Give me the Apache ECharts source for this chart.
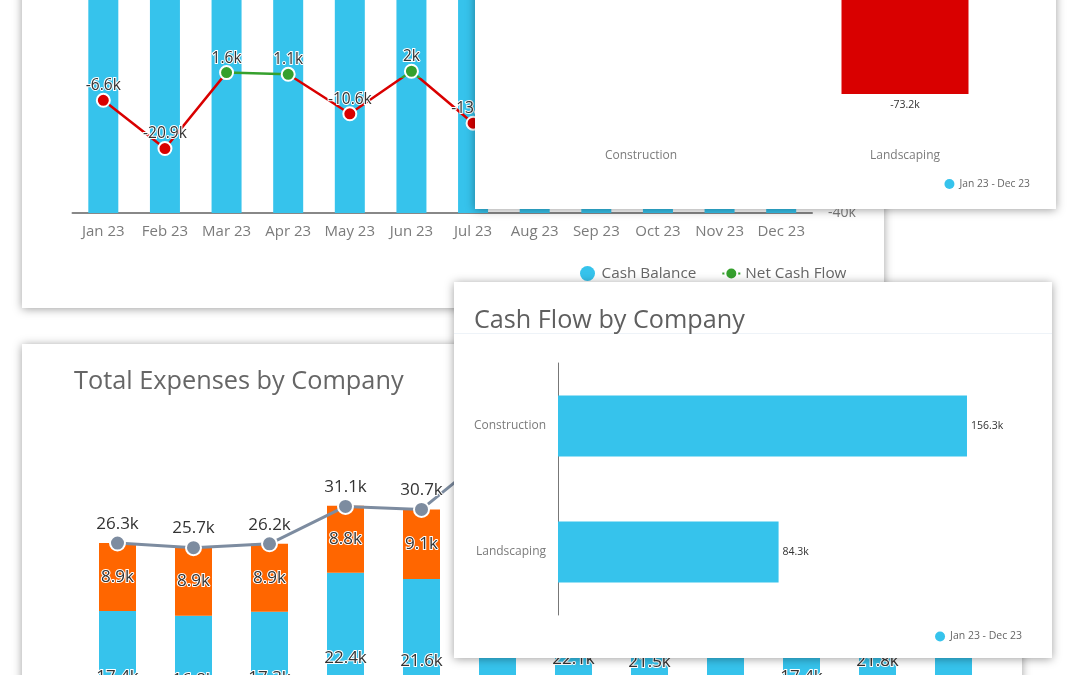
<!DOCTYPE html>
<html>
<head>
<meta charset="utf-8">
<script src="https://cdn.jsdelivr.net/npm/echarts@6/dist/echarts.min.js"></script>
<style>
  html, body { margin: 0; padding: 0; width: 1080px; height: 675px; overflow: hidden; background: #fff; }
  .card { position: absolute; background: #fff; box-shadow: 0 1px 9px rgba(0,0,0,.38); }
</style>
</head>
<body>
<div class="card" id="cashTrend" style="left:22px;top:-100px;width:862px;height:408px"></div>
<div class="card" id="expenses" style="left:22px;top:344px;width:1000px;height:420px"></div>
<div class="card" id="netByCompany" style="left:475px;top:-260px;width:581px;height:469px"></div>
<div class="card" id="flowByCompany" style="left:454px;top:282px;width:598px;height:376px"></div>
<script>
// all values in thousands
var months = ['Jan 23','Feb 23','Mar 23','Apr 23','May 23','Jun 23','Jul 23','Aug 23','Sep 23','Oct 23','Nov 23','Dec 23'];
var cashBalance = [104, 92, 94, 95, 88, 90, 86, 89, 92, 95, 90, 94];
var netCashFlow = [-6.6, -20.9, 1.6, 1.1, -10.6, 2, -13.4, -4.2, 3.1, -7.5, 1.4, -2.6];

var companies = ['Construction', 'Landscaping'];
var netProfit = [38.5, -73.2];
var cashFlow = [156.3, 84.3];
var periodName = 'Jan 23 - Dec 23';

var construction = [17.4, 16.8, 17.3, 22.4, 21.6, 29.8, 22.1, 21.5, 26, 17.4, 21.8, 26.5];
var landscaping = [8.9, 8.9, 8.9, 8.8, 9.1, 9, 8.9, 8.8, 9, 8.9, 9, 8.8];
var totalExpenses = [26.3, 25.7, 26.2, 31.1, 30.7, 38.8, 31, 30.3, 35, 26.3, 30.8, 35.3];

var FONT = '"Open Sans"';
var BLUE = '#36c3ec', ORANGE = '#ff6600', RED = '#d90000', GREEN = '#35a02d', SLATE = '#7d8ca0';
var TICK = '#7b7b7b', INK = '#333';

function k(p) { return p.value + 'k'; }
function outlined(pos, size) {
  return { show: true, position: pos, formatter: k, color: INK, fontFamily: FONT, fontSize: size,
    textBorderColor: '#fff', textBorderWidth: 2 };
}

var trend = echarts.init(document.getElementById('cashTrend'));
trend.setOption({
  animation: false,
  textStyle: { fontFamily: FONT },
  grid: { left: 50.5, width: 739.5, top: 43, height: 270 },
  legend: {
    left: 553, top: 361, itemGap: 25, itemWidth: 18, itemHeight: 15,
    textStyle: { color: '#666', fontSize: 15.3, fontFamily: FONT },
    data: [{ name: 'Cash Balance', icon: 'circle' }, { name: 'Net Cash Flow' }]
  },
  xAxis: {
    type: 'category', data: months,
    axisTick: { show: false },
    axisLine: { lineStyle: { color: '#888', width: 2 } },
    axisLabel: { color: TICK, fontSize: 15, margin: 11, fontFamily: FONT, interval: 0 }
  },
  yAxis: [
    { type: 'value', min: 0, max: 100, show: false },
    { type: 'value', min: -40, max: 40, interval: 20, position: 'right',
      splitLine: { show: false }, axisLine: { show: false }, axisTick: { show: false },
      axisLabel: { color: TICK, fontSize: 14, margin: 16, fontFamily: FONT,
        formatter: function (v) { return v + 'k'; } } }
  ],
  visualMap: {
    show: false, seriesIndex: 1, dimension: 1,
    pieces: [{ gte: -1000, lt: 0, color: RED }, { gte: 0, lte: 1000, color: GREEN }]
  },
  series: [
    { name: 'Cash Balance', type: 'bar', data: cashBalance, barWidth: 30, itemStyle: { color: BLUE } },
    { name: 'Net Cash Flow', type: 'line', yAxisIndex: 1, data: netCashFlow,
      symbol: 'circle', symbolSize: 13, showAllSymbol: true,
      lineStyle: { width: 2.5 },
      itemStyle: { color: GREEN, borderColor: '#fff', borderWidth: 2 },
      label: Object.assign(outlined('top', 15.5), { distance: -1 }) }
  ]
});

var expenses = echarts.init(document.getElementById('expenses'));
expenses.setOption({
  animation: false,
  textStyle: { fontFamily: FONT },
  title: { text: 'Total Expenses by Company', left: 47, top: 20,
    textStyle: { color: '#666', fontSize: 25.3, fontWeight: 'normal', fontFamily: FONT } },
  grid: { left: 57.5, width: 912, top: 18, height: 395 },
  xAxis: { type: 'category', data: months, axisTick: { show: false } },
  yAxis: { type: 'value', min: 0, max: 50, show: false },
  series: [
    { name: 'Construction', type: 'bar', stack: 'cost', data: construction, barWidth: 37,
      itemStyle: { color: BLUE }, label: outlined('inside', 17) },
    { name: 'Landscaping', type: 'bar', stack: 'cost', data: landscaping, barWidth: 37,
      itemStyle: { color: ORANGE }, label: outlined('inside', 17) },
    { name: 'Total', type: 'line', data: totalExpenses, symbol: 'circle', symbolSize: 15,
      lineStyle: { color: SLATE, width: 3 },
      itemStyle: { color: SLATE, borderColor: '#fff', borderWidth: 2 },
      label: Object.assign(outlined('top', 17), { distance: 2 }) }
  ]
});

var net = echarts.init(document.getElementById('netByCompany'));
net.setOption({
  animation: false,
  textStyle: { fontFamily: FONT },
  grid: { left: 34, width: 528, top: 57, height: 343 },
  legend: { right: 21, top: 434, itemWidth: 10, itemHeight: 10, icon: 'circle',
    textStyle: { color: '#666', fontSize: 10.3, fontFamily: FONT } },
  xAxis: { type: 'category', data: companies, position: 'bottom',
    axisLine: { show: false, onZero: false }, axisTick: { show: false },
    axisLabel: { color: TICK, fontSize: 12, margin: 10, fontFamily: FONT } },
  yAxis: { type: 'value', min: -100, max: 100, show: false },
  series: [{
    name: periodName, type: 'bar', barWidth: 127, itemStyle: { color: BLUE },
    data: netProfit.map(function (v) {
      return { value: v, itemStyle: { color: v < 0 ? RED : BLUE } };
    }),
    label: { show: true, position: 'outside', formatter: k, color: INK, fontSize: 10.5, fontFamily: FONT }
  }]
});

var flow = echarts.init(document.getElementById('flowByCompany'));
flow.setOption({
  animation: false,
  textStyle: { fontFamily: FONT },
  title: { text: 'Cash Flow by Company', left: 15, top: 21,
    textStyle: { color: '#5f5f5f', fontSize: 25.2, fontWeight: 'normal', fontFamily: FONT } },
  graphic: [{ type: 'rect', left: 0, top: 51, shape: { width: 598, height: 1 }, style: { fill: '#eef3f8' } }],
  grid: { left: 104, width: 471, top: 81, height: 252 },
  legend: { right: 25, top: 344, itemWidth: 10, itemHeight: 10, icon: 'circle',
    textStyle: { color: '#666', fontSize: 10.5, fontFamily: FONT } },
  xAxis: { type: 'value', min: 0, max: 180, show: false },
  yAxis: { type: 'category', data: companies, inverse: true,
    axisLine: { lineStyle: { color: '#777', width: 1 } }, axisTick: { show: false },
    axisLabel: { color: TICK, fontSize: 12, margin: 12, fontFamily: FONT } },
  series: [{
    name: periodName, type: 'bar', barWidth: 61, data: cashFlow, itemStyle: { color: BLUE },
    label: { show: true, position: 'right', distance: 4, formatter: k, color: INK, fontSize: 10.5, fontFamily: FONT }
  }]
});
</script>
</body>
</html>
